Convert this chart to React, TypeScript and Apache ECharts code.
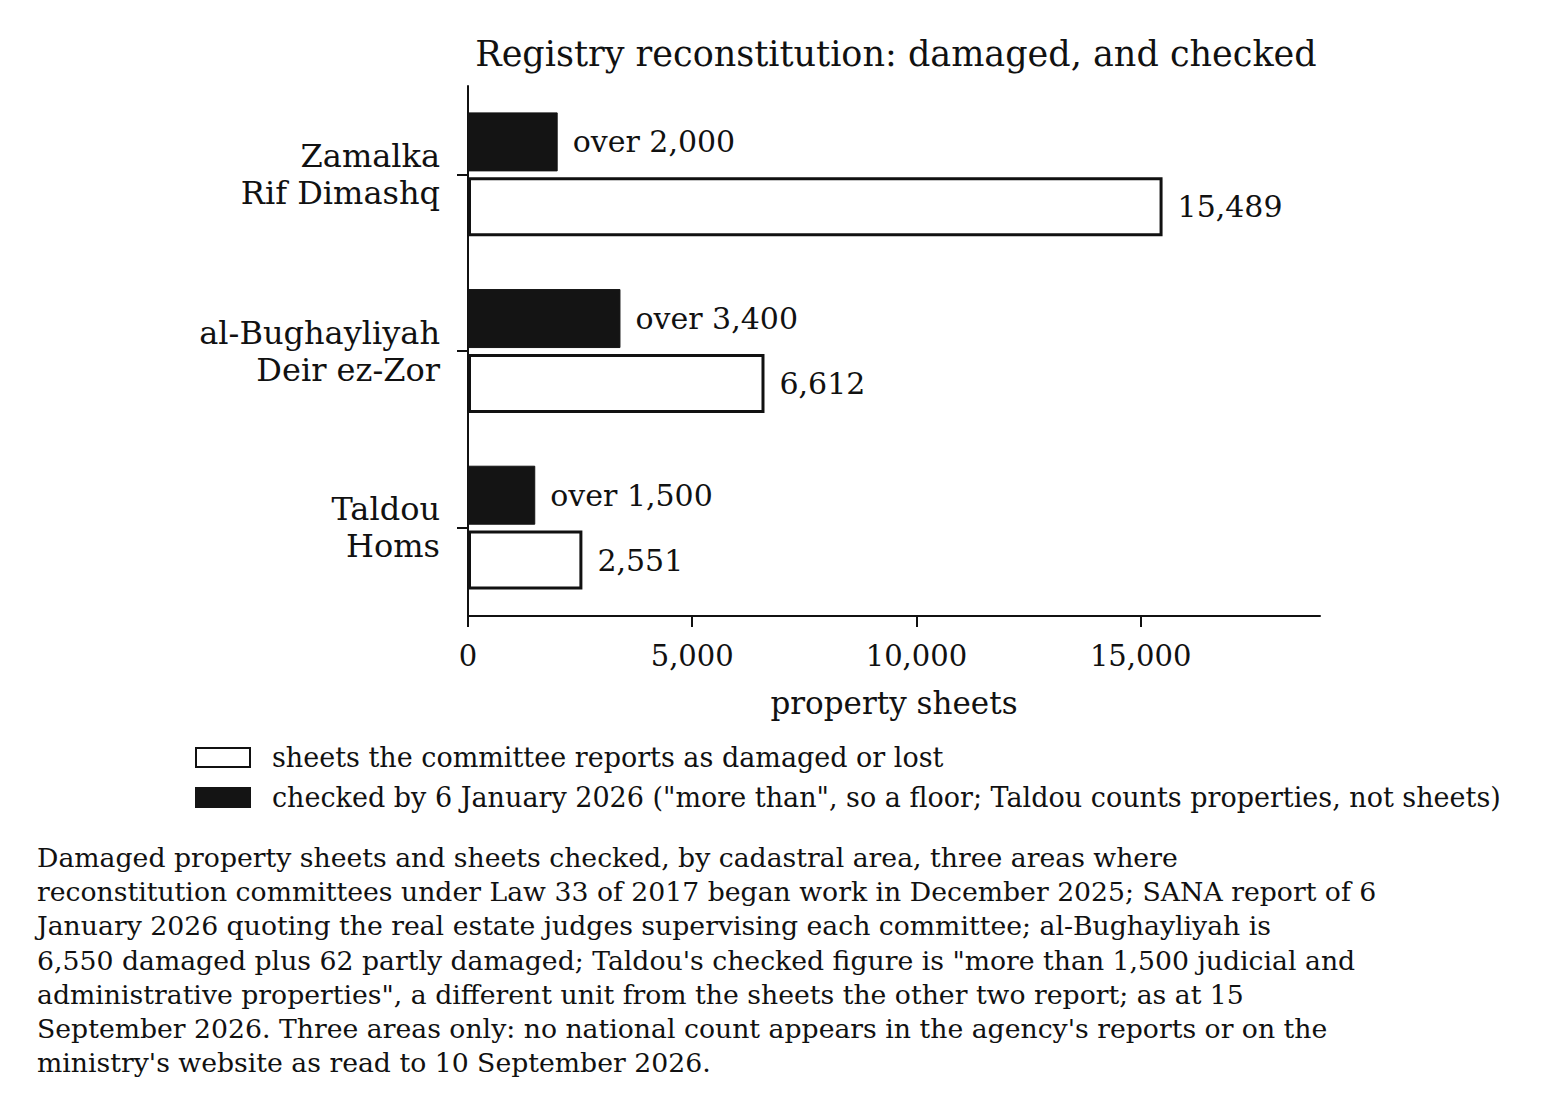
import React, { useEffect, useRef } from 'react';
import * as echarts from 'echarts';

const FONT = '"DejaVu Serif", serif';

const areas = ['Zamalka\nRif Dimashq', 'al-Bughayliyah\nDeir ez-Zor', 'Taldou\nHoms'];
const damaged = [15489, 6612, 2551];
const checked = [2000, 3400, 1500];
const checkedLabels = ['over 2,000', 'over 3,400', 'over 1,500'];
const xTicks = [0, 5000, 10000, 15000];

const damagedName = 'sheets the committee reports as damaged or lost';
const checkedName =
  'checked by 6 January 2026 ("more than", so a floor; Taldou counts properties, not sheets)';

const noteLines = [
  'Damaged property sheets and sheets checked, by cadastral area, three areas where',
  'reconstitution committees under Law 33 of 2017 began work in December 2025; SANA report of 6',
  'January 2026 quoting the real estate judges supervising each committee; al-Bughayliyah is',
  '6,550 damaged plus 62 partly damaged; Taldou\'s checked figure is "more than 1,500 judicial and',
  'administrative properties", a different unit from the sheets the other two report; as at 15',
  "September 2026. Three areas only: no national count appears in the agency's reports or on the",
  "ministry's website as read to 10 September 2026.",
];

const fmt = (v: number) => v.toLocaleString('en-US');

export default function App() {
  const ref = useRef<HTMLDivElement>(null);

  useEffect(() => {
    document.body.style.margin = '0';
    if (!ref.current) return;
    const chart = echarts.init(ref.current, undefined, { renderer: 'svg' });
    chart.setOption({
      animation: false,
      backgroundColor: '#ffffff',
      textStyle: { fontFamily: FONT, color: '#111' },
      title: {
        text: 'Registry reconstitution: damaged, and checked',
        left: 891,
        top: 31,
        textAlign: 'center',
        textStyle: { fontFamily: FONT, fontSize: 35, fontWeight: 'normal', color: '#111' },
      },
      grid: { left: 468, right: 228, top: 86, bottom: 499, containLabel: false },
      legend: {
        orient: 'vertical',
        left: 195,
        top: 744,
        padding: 0,
        itemWidth: 54,
        itemHeight: 19,
        itemGap: 13,
        icon: 'rect',
        data: [damagedName, checkedName],
        textStyle: { fontFamily: FONT, fontSize: 27, color: '#111', padding: [0, 0, 0, 17] },
      },
      xAxis: {
        type: 'value',
        min: 0,
        max: 19000,
        interval: 5000,
        name: 'property sheets',
        nameLocation: 'middle',
        nameGap: 71,
        nameTextStyle: { fontFamily: FONT, fontSize: 31, color: '#111' },
        axisLine: { show: true, lineStyle: { color: '#111', width: 2 } },
        axisTick: { show: true, length: 11, customValues: xTicks, lineStyle: { color: '#111', width: 2 } },
        axisLabel: {
          customValues: xTicks,
          formatter: (v: number) => fmt(v),
          fontFamily: FONT,
          fontSize: 29,
          color: '#111',
          margin: 25,
        },
        splitLine: { show: false },
      },
      yAxis: {
        type: 'category',
        inverse: true,
        data: areas,
        axisLine: { show: true, lineStyle: { color: '#111', width: 2 } },
        axisTick: { show: true, alignWithLabel: true, length: 11, lineStyle: { color: '#111', width: 2 } },
        axisLabel: {
          fontFamily: FONT,
          fontSize: 32,
          lineHeight: 37,
          color: '#111',
          margin: 28,
          align: 'right',
          padding: [12, 0, 0, 0],
        },
      },
      series: [
        {
          name: checkedName,
          type: 'bar',
          data: checked,
          barWidth: 59,
          barGap: '10%',
          itemStyle: { color: '#141414', borderColor: '#141414', borderWidth: 1 },
          label: {
            show: true,
            position: 'right',
            distance: 15,
            fontFamily: FONT,
            fontSize: 30,
            color: '#111',
            formatter: (p: any) => checkedLabels[p.dataIndex],
          },
        },
        {
          name: damagedName,
          type: 'bar',
          data: damaged,
          barWidth: 59,
          barGap: '10%',
          itemStyle: { color: '#ffffff', borderColor: '#111', borderWidth: 3 },
          label: {
            show: true,
            position: 'right',
            distance: 15,
            fontFamily: FONT,
            fontSize: 30,
            color: '#111',
            formatter: (p: any) => fmt(p.value),
          },
        },
      ],
      graphic: [
        {
          type: 'text',
          left: 37,
          top: 840,
          style: {
            text: noteLines.join('\n'),
            fontFamily: FONT,
            fontSize: 26.7,
            lineHeight: 34.3,
            fill: '#111',
          },
        },
      ],
    });
    return () => chart.dispose();
  }, []);

  return <div ref={ref} style={{ width: '100vw', height: '100vh' }} />;
}
